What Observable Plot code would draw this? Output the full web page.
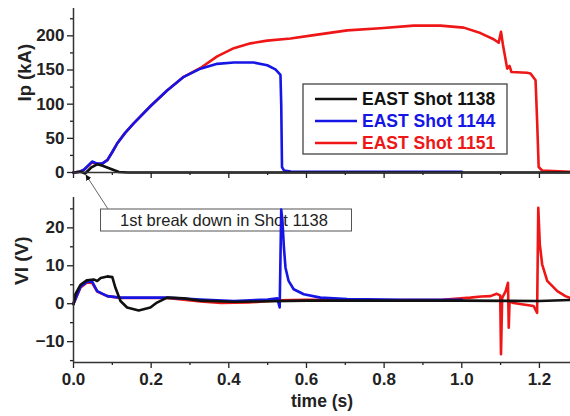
<!DOCTYPE html>
<html>
<head>
<meta charset="utf-8">
<script src="https://cdn.jsdelivr.net/npm/d3@7"></script>
<script src="https://cdn.jsdelivr.net/npm/@observablehq/plot@0.6"></script>
<style>
  html, body { margin: 0; padding: 0; background: white; }
  #wrap { position: relative; width: 570px; height: 416px; overflow: hidden; }
  #overlay { position: absolute; left: 0; top: 0; z-index: 0; }
  #plots { position: absolute; left: 0; top: 0; z-index: 1; }
  #plots svg { display: block; }
</style>
</head>
<body>
<div id="wrap">
  <svg id="overlay" width="570" height="416"></svg>
  <div id="plots"></div>
</div>
<script>
// ---- Series names & colours ----
const seriesNames = ["EAST Shot 1138", "EAST Shot 1144", "EAST Shot 1151"];
const seriesColors = ["#111111", "#1515e6", "#ee1616"];

// ---- Plasma current Ip (kA) vs time (s) ----
const ip1138 = [[0,0],[0.02,1],[0.03,-1.5],[0.045,7],[0.061,12],[0.075,10],[0.095,5.5],[0.117,0.8],[0.14,0],[0.5,0],[1.28,0]];
const ip1144 = [[0,0],[0.015,1],[0.027,4],[0.048,16],[0.061,13],[0.074,13],[0.087,18],[0.1,30],[0.112,42],[0.133,58],[0.155,72],[0.198,97],[0.241,120],[0.284,140],[0.327,152],[0.37,159],[0.413,161],[0.464,161],[0.499,157],[0.52,151],[0.533,143],[0.535,100],[0.537,8],[0.542,3],[0.56,1.5],[0.8,1],[1.0,1]];
const ip1151 = [[0,0],[0.015,1],[0.027,4],[0.048,15],[0.061,12],[0.074,13],[0.087,18],[0.1,30],[0.112,42],[0.133,58],[0.155,72],[0.198,97],[0.241,120],[0.284,140],[0.327,153],[0.37,170],[0.413,182],[0.456,189],[0.499,193],[0.559,196],[0.619,201],[0.705,208],[0.79,211],[0.876,215],[0.945,215],[1.005,212],[1.048,204],[1.082,195],[1.095,190],[1.101,206],[1.106,187],[1.117,152],[1.123,156],[1.128,147],[1.168,146],[1.177,145],[1.19,135],[1.194,76],[1.198,8],[1.207,3],[1.28,1]];

// ---- Loop voltage Vl (V) vs time (s) ----
const vl1138 = [[0,-0.2],[0.005,2.5],[0.018,5],[0.035,6.2],[0.052,6.4],[0.061,6],[0.07,6.8],[0.087,7.2],[0.1,7],[0.108,4.2],[0.121,0.7],[0.138,-1],[0.168,-1.8],[0.198,-1],[0.215,0.3],[0.241,1.6],[0.284,1.4],[0.327,0.8],[0.413,0.5],[0.6,0.8],[1.0,0.8],[1.2,0.7],[1.28,1]];
const vl1144 = [[0,0],[0.018,4.5],[0.035,5.8],[0.048,5.8],[0.061,3.3],[0.087,2],[0.121,1.6],[0.241,1.6],[0.327,1.1],[0.413,0.7],[0.5,1.1],[0.525,1.4],[0.531,-1],[0.535,24.8],[0.538,22],[0.542,14.7],[0.546,9.5],[0.554,6],[0.567,3.8],[0.593,2.5],[0.636,1.6],[0.705,1.2],[0.85,1],[1.0,1]];
const vl1151 = [[0,0],[0.018,4.3],[0.035,5.6],[0.048,5.5],[0.061,3.2],[0.087,2],[0.121,1.5],[0.241,1.5],[0.327,0.6],[0.38,0.2],[0.45,0.3],[0.53,0.9],[0.6,1],[0.8,0.9],[0.95,1],[1.022,1.6],[1.05,1.9],[1.074,2],[1.09,2.6],[1.099,2.2],[1.101,-13.3],[1.104,1.5],[1.113,3.3],[1.119,5.5],[1.121,-6.3],[1.123,0.6],[1.133,0.2],[1.185,-0.6],[1.194,-2.4],[1.197,25.3],[1.201,15.6],[1.207,10.4],[1.22,6],[1.246,3.3],[1.267,2],[1.28,1.5]];

// ---- Scales & ticks ----
const xDomain = [0, 1.28];
const ipDomain = [0, 240];
const vlDomain = [-15.5, 28];
const xMajorTicks = [0, 0.2, 0.4, 0.6, 0.8, 1.0, 1.2];
const xMinorTicks = [0.1, 0.3, 0.5, 0.7, 0.9, 1.1];
const ipMajorTicks = [0, 50, 100, 150, 200];
const ipMinorTicks = [25, 75, 125, 175, 225];
const vlMajorTicks = [-10, 0, 10, 20];
const vlMinorTicks = [-15, -5, 5, 15, 25];
const ipLabel = "Ip (kA)";
const vlLabel = "Vl (V)";
const xLabel = "time (s)";
const noteText = "1st break down in Shot 1138";

const FONT = "'Liberation Sans', Arial, Helvetica, sans-serif";
const baseStyle = {fontFamily: FONT, fontSize: "17px", fontWeight: "bold", color: "#222", background: "transparent", overflow: "visible"};
const lineOpts = (c) => ({x: d => d[0], y: d => d[1], stroke: c, strokeWidth: 2.6, curve: "linear"});
const noText = () => "";

const ipPlot = Plot.plot({
  width: 570, height: 186,
  marginLeft: 73, marginRight: 0, marginTop: 8, marginBottom: 14,
  x: {domain: xDomain},
  y: {domain: ipDomain},
  style: baseStyle,
  marks: [
    Plot.axisX({ticks: xMajorTicks, tickSize: 6, tickFormat: noText, label: null, strokeWidth: 1.3}),
    Plot.axisX({ticks: xMinorTicks, tickSize: 3, tickFormat: noText, label: null, strokeWidth: 1.3}),
    Plot.axisY({ticks: ipMajorTicks, tickSize: 6, tickPadding: 3, label: null, strokeWidth: 1.3, fontSize: 17}),
    Plot.axisY({ticks: ipMinorTicks, tickSize: 3, tickFormat: noText, label: null, strokeWidth: 1.3}),
    Plot.line(ip1151, lineOpts(seriesColors[2])),
    Plot.line(ip1144, lineOpts(seriesColors[1])),
    Plot.line(ip1138, lineOpts(seriesColors[0])),
    Plot.ruleX([xDomain[0]], {stroke: "#333", strokeWidth: 1.5}),
    Plot.ruleY([ipDomain[0]], {stroke: "#333", strokeWidth: 1.5}),
    Plot.text([ipLabel], {frameAnchor: "left", dx: -48, dy: 11, rotate: -90, fontSize: 18.5, fontWeight: "bold", fill: "#222"})
  ]
});

const vlPlot = Plot.plot({
  width: 570, height: 230,
  marginLeft: 73, marginRight: 0, marginTop: 11, marginBottom: 54,
  x: {domain: xDomain},
  y: {domain: vlDomain},
  style: baseStyle,
  marks: [
    Plot.axisX({ticks: xMajorTicks, tickSize: 6, tickPadding: 4, tickFormat: d3.format(".1f"), label: null, strokeWidth: 1.3, fontSize: 17}),
    Plot.axisX({ticks: xMinorTicks, tickSize: 3, tickFormat: noText, label: null, strokeWidth: 1.3}),
    Plot.axisY({ticks: vlMajorTicks, tickSize: 6, tickPadding: 3, label: null, strokeWidth: 1.3, fontSize: 17}),
    Plot.axisY({ticks: vlMinorTicks, tickSize: 3, tickFormat: noText, label: null, strokeWidth: 1.3}),
    Plot.line(vl1151, lineOpts(seriesColors[2])),
    Plot.line(vl1144, lineOpts(seriesColors[1])),
    Plot.line(vl1138, lineOpts(seriesColors[0])),
    Plot.ruleX([xDomain[0]], {stroke: "#333", strokeWidth: 1.5}),
    Plot.ruleY([vlDomain[0]], {stroke: "#333", strokeWidth: 1.5}),
    Plot.text([vlLabel], {frameAnchor: "left", dx: -52, dy: 5, rotate: -90, fontSize: 19, fontWeight: "bold", fill: "#222"}),
    Plot.text([xLabel], {frameAnchor: "bottom", dy: 44, fontSize: 17.5, fontWeight: "bold", fill: "#222"})
  ]
});

document.getElementById("plots").append(ipPlot, vlPlot);

// ---- Overlay: legend + annotation (drawn beneath the plot lines) ----
const ov = d3.select("#overlay");
ov.append("defs").append("marker")
  .attr("id", "ah").attr("viewBox", "0 0 10 10").attr("refX", 9).attr("refY", 5)
  .attr("markerWidth", 6).attr("markerHeight", 6).attr("orient", "auto")
  .append("path").attr("d", "M0,0L10,5L0,10z").attr("fill", "#111");

// legend
const lg = ov.append("g").attr("transform", "translate(303,84)");
lg.append("rect").attr("width", 204).attr("height", 70).attr("fill", "white").attr("stroke", "#444").attr("stroke-width", 1.3);
seriesNames.forEach((name, i) => {
  const y = 15 + i * 22;
  lg.append("line").attr("x1", 12).attr("x2", 54).attr("y1", y).attr("y2", y)
    .attr("stroke", seriesColors[i]).attr("stroke-width", 2.6);
  lg.append("text").attr("x", 59).attr("y", y).attr("dy", "0.36em")
    .attr("font-family", FONT).attr("font-weight", "bold").attr("font-size", 17.5)
    .attr("fill", i === 0 ? "#111" : seriesColors[i]).text(name);
});

// annotation
ov.append("rect").attr("x", 100.5).attr("y", 209).attr("width", 251).attr("height", 22)
  .attr("fill", "white").attr("stroke", "#555").attr("stroke-width", 1);
ov.append("text").attr("x", 120).attr("y", 220).attr("dy", "0.36em")
  .attr("font-family", FONT).attr("font-size", 16.5).attr("fill", "#222").text(noteText);
ov.append("line").attr("x1", 108).attr("y1", 209).attr("x2", 86).attr("y2", 175)
  .attr("stroke", "#666").attr("stroke-width", 1).attr("marker-end", "url(#ah)");
</script>
</body>
</html>
